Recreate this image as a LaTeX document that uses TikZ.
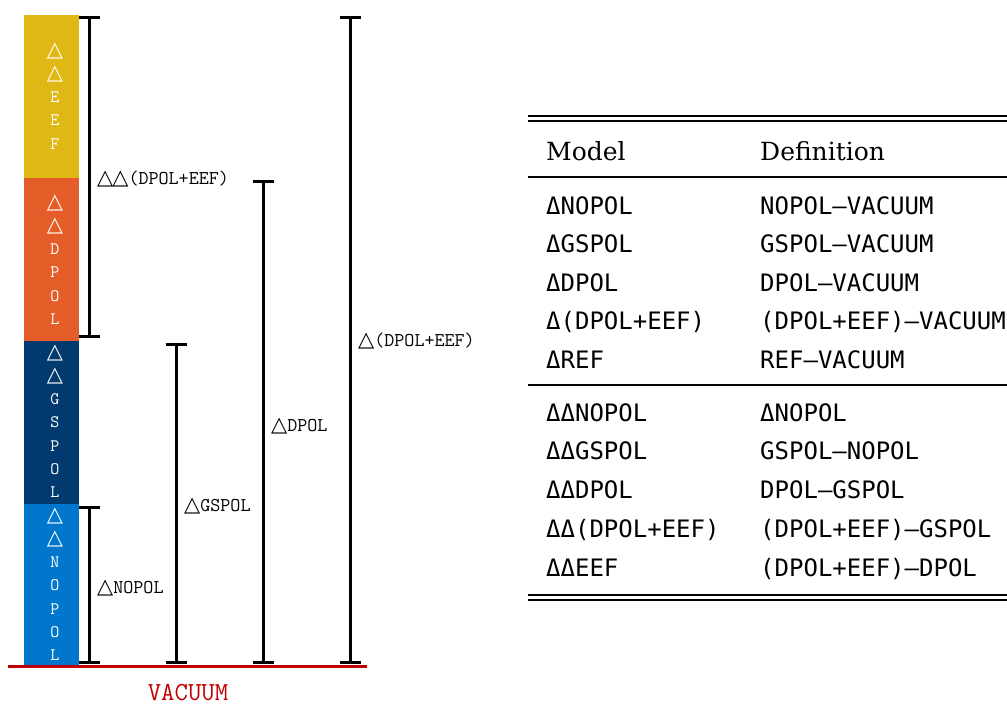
\documentclass[tikz,border=0pt]{standalone}
\usepackage{fontspec}
\usetikzlibrary{arrows.meta}
\newfontfamily\headserif{DejaVu Serif}
\newfontfamily\monof{DejaVu Sans Mono}
\newfontfamily\symf{DejaVu Sans}
% outline triangle used as the difference sign in the diagram labels
\newcommand\tri[1][16]{{\symf\fontsize{#1}{#1}\selectfont △}}
\definecolor{cEEF}{HTML}{DFB815}
\definecolor{cDPOL}{HTML}{E55E2A}
\definecolor{cGSPOL}{HTML}{003A6E}
\definecolor{cNOPOL}{HTML}{0077CC}
\definecolor{cVAC}{HTML}{C00000}
\begin{document}
\begin{tikzpicture}[x=1pt,y=-1pt,
  barletter/.style={text=white,font=\ttfamily\fontsize{17.5}{17.5}\selectfont,anchor=base,inner sep=0pt},
  span/.style={line width=3pt,{Bar[width=21pt,line width=3pt]}-{Bar[width=21pt,line width=3pt]}},
  spanlabel/.style={anchor=base west,inner sep=0pt,font=\ttfamily\fontsize{19.5}{19.5}\selectfont},
  cell/.style={anchor=base west,inner sep=0pt,font=\monof\fontsize{24}{24}\selectfont},
  headcell/.style={anchor=base west,inner sep=0pt,font=\headserif\fontsize{25}{25}\selectfont}]
\useasboundingbox (0,0) rectangle (1007,704);

% stacked energy contributions
\fill[cEEF]   (24,15)  rectangle (79,178);
\fill[cDPOL]  (24,178) rectangle (79,341);
\fill[cGSPOL] (24,341) rectangle (79,504);
\fill[cNOPOL] (24,504) rectangle (79,666);

\foreach \ch [count=\i] in {\tri[21],\tri[21],E,E,F}
  \node[barletter] (eef\i) at (55,{56+23.3*(\i-1)}) {\ch};
\foreach \ch [count=\i] in {\tri[21],\tri[21],D,P,O,L}
  \node[barletter] (dpol\i) at (55,{208+23.3*(\i-1)}) {\ch};
\foreach \ch [count=\i] in {\tri[21],\tri[21],G,S,P,O,L}
  \node[barletter] (gspol\i) at (55,{358+23.3*(\i-1)}) {\ch};
\foreach \ch [count=\i] in {\tri[21],\tri[21],N,O,P,O,L}
  \node[barletter] (nopol\i) at (55,{521+23.3*(\i-1)}) {\ch};

% vacuum reference level
\coordinate (vl) at (8,666);
\coordinate (vr) at (367,666);
\draw[cVAC,line width=3pt] (vl) -- (vr);
\node[text=cVAC,font=\ttfamily\fontsize{26}{26}\selectfont,anchor=base,inner sep=0pt,text depth=0pt] (vac) at (188,700) {VACUUM};

% spans
\coordinate (s1t) at (89,16);  \coordinate (s1b) at (89,338);
\coordinate (s2t) at (89,506); \coordinate (s2b) at (89,664);
\coordinate (s3t) at (176,343); \coordinate (s3b) at (176,664);
\coordinate (s4t) at (263,180); \coordinate (s4b) at (263,664);
\coordinate (s5t) at (350,16); \coordinate (s5b) at (350,664);
\draw[span] (s1t) -- (s1b);
\draw[span] (s2t) -- (s2b);
\draw[span] (s3t) -- (s3b);
\draw[span] (s4t) -- (s4b);
\draw[span] (s5t) -- (s5b);
\node[spanlabel] (l1) at (97,184) {\tri[21]\kern-1pt\tri[21](DPOL+EEF)};
\node[spanlabel] (l2) at (97,593) {\tri[21]NOPOL};
\node[spanlabel] (l3) at (184,511) {\tri[21]GSPOL};
\node[spanlabel] (l4) at (271,431) {\tri[21]DPOL};
\node[spanlabel] (l5) at (358,346) {\tri[21](DPOL+EEF)};

% table of definitions
\draw[line width=2pt] (528,116) -- (1007,116);
\draw[line width=2pt] (528,121) -- (1007,121);
\draw[line width=1.2pt] (528,177) -- (1007,177);
\draw[line width=1.2pt] (528,385) -- (1007,385);
\draw[line width=2pt] (528,595) -- (1007,595);
\draw[line width=2pt] (528,600) -- (1007,600);

\node[headcell] (hm) at (546,160) {Model};
\node[headcell] (hd) at (760,160) {Definition};

\foreach \m/\d [count=\i] in {%
  ΔNOPOL/NOPOL–VACUUM,
  ΔGSPOL/GSPOL–VACUUM,
  ΔDPOL/DPOL–VACUUM,
  Δ(DPOL+EEF)/(DPOL+EEF)–VACUUM,
  ΔREF/REF–VACUUM}
{
  \node[cell] (ma\i) at (546,{214+38.5*(\i-1)}) {\m};
  \node[cell] (da\i) at (760,{214+38.5*(\i-1)}) {\d};
}
\foreach \m/\d [count=\i] in {%
  ΔΔNOPOL/ΔNOPOL,
  ΔΔGSPOL/GSPOL–NOPOL,
  ΔΔDPOL/DPOL–GSPOL,
  ΔΔ(DPOL+EEF)/(DPOL+EEF)–GSPOL,
  ΔΔEEF/(DPOL+EEF)–DPOL}
{
  \node[cell] (mb\i) at (546,{421+38.8*(\i-1)}) {\m};
  \node[cell] (db\i) at (760,{421+38.8*(\i-1)}) {\d};
}
\end{tikzpicture}
\end{document}
